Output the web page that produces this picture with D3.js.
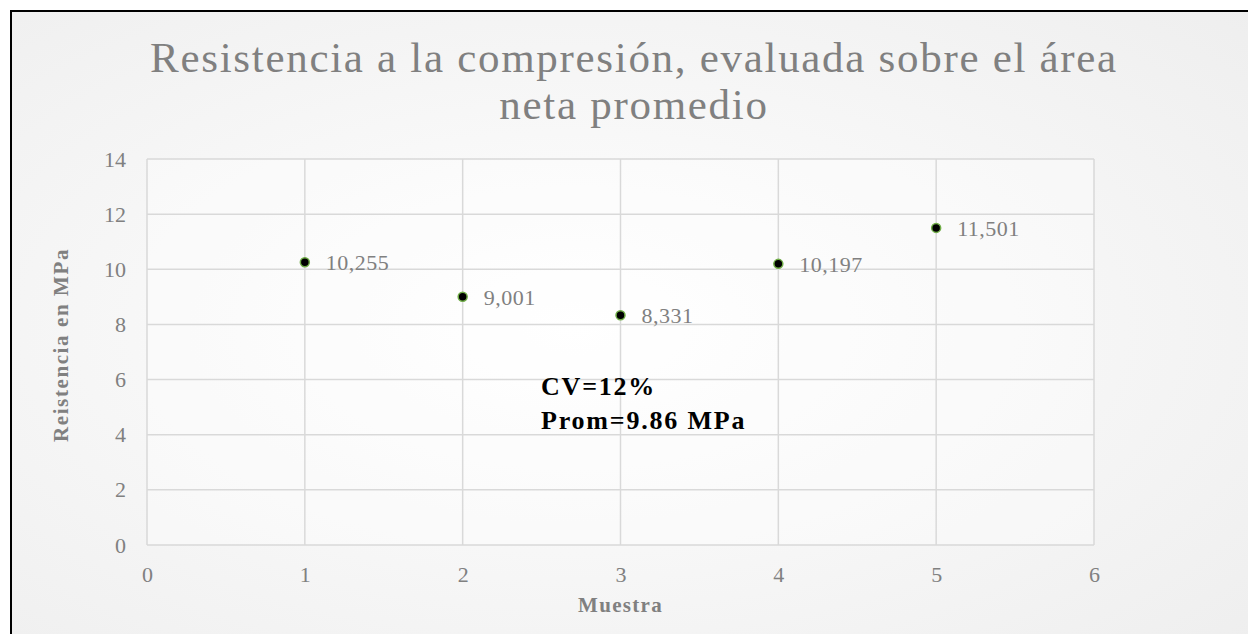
<!DOCTYPE html>
<html>
<head>
<meta charset="utf-8">
<script src="https://cdn.jsdelivr.net/npm/d3@7"></script>
<style>
 body{margin:0;background:#fff;}
 text{font-family:"Liberation Serif","Times New Roman",serif;}
</style>
</head>
<body>
<div id="chartDiv"></div>
<script>
// Data
var muestras = [1, 2, 3, 4, 5];
var resistencias = [10.255, 9.001, 8.331, 10.197, 11.501];
var etiquetas = ["10,255", "9,001", "8,331", "10,197", "11,501"];
var xTicks = [0, 1, 2, 3, 4, 5, 6];
var yTicks = [0, 2, 4, 6, 8, 10, 12, 14];
var titulo = ["Resistencia a la compresión, evaluada sobre el área", "neta promedio"];
var nota = ["CV=12%", "Prom=9.86 MPa"];

var W = 1248, H = 634;
var margin = {top: 159, right: 154, bottom: 89, left: 147};
var width = W - margin.left - margin.right;
var height = H - margin.top - margin.bottom;
var gris = "#808080";

var svg = d3.select("#chartDiv").append("svg")
 .attr("width", W).attr("height", H);

var defs = svg.append("defs");
var grad = defs.append("radialGradient")
 .attr("id", "bg").attr("cx", "0.45").attr("cy", "0.5").attr("r", "0.75");
grad.append("stop").attr("offset", "0%").attr("stop-color", "#ffffff");
grad.append("stop").attr("offset", "100%").attr("stop-color", "#eeeeee");

svg.append("rect")			//chart background with border
 .attr("x", 11).attr("y", 11)
 .attr("width", W).attr("height", H)
 .attr("fill", "url(#bg)")
 .attr("stroke", "#000").attr("stroke-width", 2);

var x = d3.scaleLinear().domain([0, 6]).range([0, width]);
var y = d3.scaleLinear().domain([0, 14]).range([height, 0]);

var g = svg.append("g")
 .attr("transform", "translate(" + margin.left + "," + margin.top + ")");

g.append("rect")
 .attr("width", width).attr("height", height)
 .attr("fill", "#ffffff").attr("fill-opacity", 0.35);

// gridlines
g.append("g").selectAll("line").data(yTicks).enter().append("line")
 .attr("x1", 0).attr("x2", width)
 .attr("y1", d => y(d)).attr("y2", d => y(d))
 .attr("stroke", "#d9d9d9").attr("stroke-width", 1.5);
g.append("g").selectAll("line").data(xTicks).enter().append("line")
 .attr("y1", 0).attr("y2", height)
 .attr("x1", d => x(d)).attr("x2", d => x(d))
 .attr("stroke", "#d9d9d9").attr("stroke-width", 1.5);

// axes (labels only)
var xAxis = g.append("g")
 .attr("transform", "translate(0," + height + ")")
 .call(d3.axisBottom(x).tickValues(xTicks).tickFormat(d3.format("d")).tickSize(0).tickPadding(21));
var yAxis = g.append("g")
 .call(d3.axisLeft(y).tickValues(yTicks).tickFormat(d3.format("d")).tickSize(0).tickPadding(21));
[xAxis, yAxis].forEach(function(a){
 a.select(".domain").remove();
 a.selectAll("text")
  .style("font-family", "'Liberation Serif',serif")
  .style("font-size", "22px")
  .attr("fill", gris);
});

// points
g.selectAll(".dot").data(muestras).enter().append("circle")
 .attr("cx", d => x(d))
 .attr("cy", (d, i) => y(resistencias[i]))
 .attr("r", 4.5)
 .attr("fill", "#000")
 .attr("stroke", "#70ad47").attr("stroke-width", 1.5);

g.selectAll(".lbl").data(muestras).enter().append("text")
 .attr("x", d => x(d) + 21)
 .attr("y", (d, i) => y(resistencias[i]) + 8)
 .attr("font-size", "22px")
 .attr("letter-spacing", "0.5px")
 .attr("fill", gris)
 .text((d, i) => etiquetas[i]);

// title
svg.append("text")
 .attr("x", 634).attr("y", 72)
 .attr("text-anchor", "middle")
 .attr("font-size", "43px")
 .attr("letter-spacing", "1.7px")
 .attr("fill", gris)
 .selectAll("tspan").data(titulo).enter().append("tspan")
 .attr("x", 634).attr("dy", (d, i) => i ? 47 : 0)
 .text(d => d);

// axis titles
svg.append("text")
 .attr("x", margin.left + x(3)).attr("y", 612)
 .attr("text-anchor", "middle")
 .attr("font-size", "21px").attr("font-weight", "bold")
 .attr("letter-spacing", "1.3px")
 .attr("fill", gris)
 .text("Muestra");
svg.append("text")
 .attr("transform", "translate(68,345)rotate(-90)")
 .attr("text-anchor", "middle")
 .attr("font-size", "21px").attr("font-weight", "bold")
 .attr("letter-spacing", "1.6px")
 .attr("fill", gris)
 .text("Reistencia en MPa");

// annotation
svg.append("text")
 .attr("x", 541).attr("y", 395)
 .attr("font-size", "26px").attr("font-weight", "bold")
 .attr("letter-spacing", "1.8px")
 .attr("fill", "#000")
 .selectAll("tspan").data(nota).enter().append("tspan")
 .attr("x", 541).attr("dy", (d, i) => i ? 34 : 0)
 .text(d => d);
</script>
</body>
</html>
